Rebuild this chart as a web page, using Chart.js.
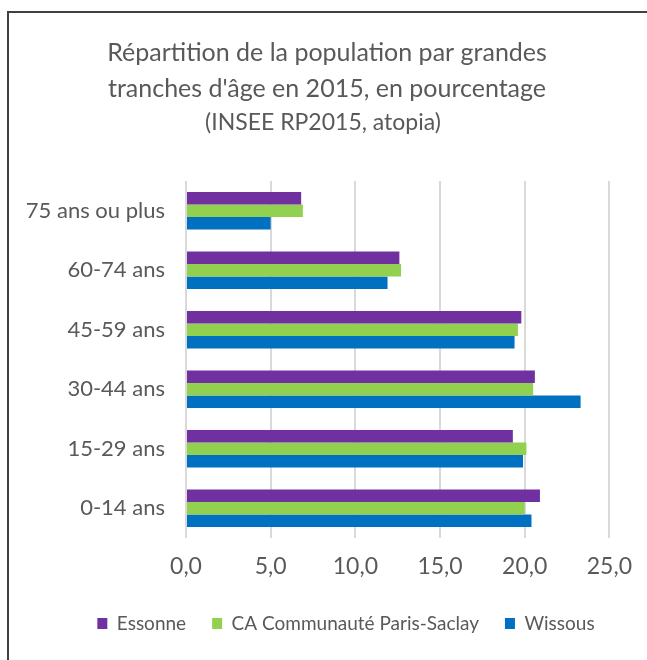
<!DOCTYPE html>
<html>
<head>
<meta charset="utf-8">
<script src="https://cdn.jsdelivr.net/npm/chart.js@4/dist/chart.umd.min.js"></script>
<style>
    html, body { margin: 0; padding: 0; background: #fff; overflow: hidden; }
    #frame {
        position: absolute; left: 7px; top: 11px; width: 700px; height: 700px;
        border-left: 2px solid #404040; border-top: 2px solid #404040;
    }
    #wrap { position: absolute; left: 0; top: 0; width: 647px; height: 660px; }
</style>
</head>
<body>
<div id="frame"></div>
<div id="wrap"><canvas id="chart" width="647" height="660"></canvas></div>
<script>
// age groups, top to bottom as drawn
const categories = ['75 ans ou plus', '60-74 ans', '45-59 ans', '30-44 ans', '15-29 ans', '0-14 ans'];
const essonne = [6.8, 12.6, 19.8, 20.6, 19.3, 20.9];
const parisSaclay = [6.9, 12.7, 19.6, 20.5, 20.1, 20.0];
const wissous = [5.0, 11.9, 19.4, 23.3, 19.9, 20.4];
const xTicks = [0, 5, 10, 15, 20, 25];

const textColor = '#595959';
const fontFamily = 'Lato, "Open Sans", sans-serif';

// the right padding pulls title and legend left; push them back over
const boxShift = {
    id: 'boxShift',
    afterLayout(chart) {
        chart.boxes.forEach(box => {
            let shift = 0;
            if (box === chart.legend) shift = 40;
            else if (box === chart.titleBlock) shift = 21;
            else if (box.options && box.options.position === 'top' && box.options.text) shift = 17;
            box.left += shift;
            box.right += shift;
        });
    }
};

const dataSet = (label, data, color) => ({
    label: label,
    data: data,
    backgroundColor: color,
    borderColor: color,
    borderWidth: 0,
    categoryPercentage: 0.63,
    barPercentage: 1.0,
});

new Chart(document.getElementById('chart'), {
    type: 'bar',
    data: {
        labels: categories,
        datasets: [
            dataSet('Essonne', essonne, '#7030A0'),
            dataSet('CA Communauté Paris-Saclay', parisSaclay, '#92D050'),
            dataSet('Wissous', wissous, '#0070C0'),
        ],
    },
    plugins: [boxShift],
    options: {
        indexAxis: 'y',
        responsive: false,
        animation: false,
        layout: { padding: { left: 0, right: 35, top: 0, bottom: 17 } },
        plugins: {
            title: {
                display: true,
                text: ['Répartition de la population par grandes', "tranches d'âge en 2015, en pourcentage"],
                color: textColor,
                font: { family: fontFamily, size: 25, weight: 'normal', lineHeight: 1.45 },
                padding: { top: 35, bottom: 0 },
            },
            subtitle: {
                display: true,
                text: '(INSEE RP2015, atopia)',
                color: textColor,
                font: { family: fontFamily, size: 23, weight: 'normal', lineHeight: 1.2 },
                padding: { top: 1, bottom: 45 },
            },
            legend: {
                position: 'bottom',
                labels: {
                    color: textColor,
                    font: { family: fontFamily, size: 19 },
                    boxWidth: 10,
                    boxHeight: 11,
                    padding: 26,
                },
            },
            tooltip: { enabled: false },
        },
        scales: {
            x: {
                min: 0,
                max: 25,
                afterBuildTicks: (axis) => { axis.ticks = xTicks.map(v => ({ value: v })); },
                afterFit: (axis) => { axis.height = 50; },
                border: { display: false },
                grid: { color: '#d9d9d9', lineWidth: 2, drawTicks: false },
                ticks: {
                    color: textColor,
                    font: { family: fontFamily, size: 23 },
                    padding: 15,
                    maxRotation: 0,
                    callback: (v) => Number(v).toFixed(1).replace('.', ','),
                },
            },
            y: {
                afterFit: (axis) => { axis.width = 186; },
                border: { display: false },
                grid: { display: false },
                ticks: {
                    color: textColor,
                    font: { family: fontFamily, size: 22 },
                    padding: 13,
                },
            },
        },
    },
});
</script>
</body>
</html>
